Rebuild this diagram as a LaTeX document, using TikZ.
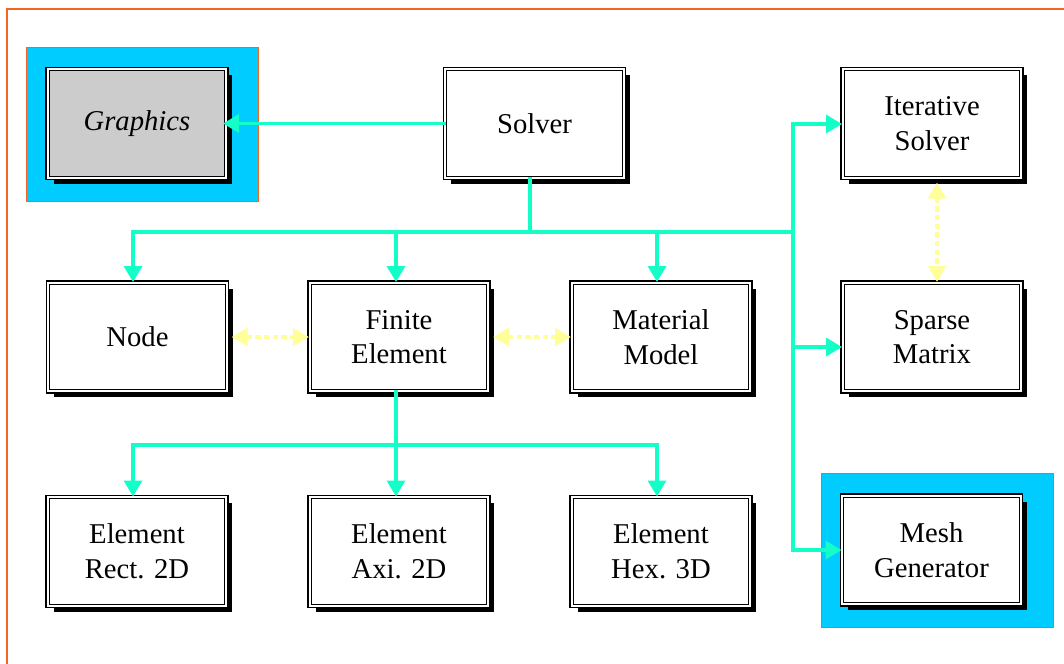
\documentclass[tikz,border=0pt]{standalone}
\usepackage{fontspec}
\setmainfont{Liberation Serif}
\usetikzlibrary{arrows.meta,shadows}
\definecolor{tealc}{RGB}{20,255,200}
\definecolor{skyc}{RGB}{0,204,255}
\definecolor{orng}{RGB}{242,101,34}
\definecolor{lyel}{RGB}{255,255,153}
\definecolor{gbox}{RGB}{204,204,204}
\begin{document}
\begin{tikzpicture}[x=0.75pt,y=-0.75pt,
  box/.style={draw=black, double=white, double distance=1.3pt, line width=1pt,
    fill=white, minimum width=134pt, minimum height=81.5pt, inner sep=0pt,
    align=center, font=\fontsize{21.5}{26}\selectfont,
    drop shadow={shadow xshift=4.5pt, shadow yshift=-4.5pt, opacity=1, fill=black}},
  frame/.style={fill=skyc, draw=orng, line width=0.8pt, minimum width=174pt, minimum height=116pt, inner sep=0pt},
  tl/.style={draw=tealc, line width=2.6pt, line cap=rect},
  tla/.style={tl, -{Triangle[length=12pt,width=13.5pt]}},
  ya/.style={draw=lyel, line width=3pt, dash pattern=on 4pt off 2.5pt,
    {Triangle[length=12pt,width=13pt]}-{Triangle[length=12pt,width=13pt]}}
]
\useasboundingbox (0,0) rectangle (1064,664);
\draw[orng, line width=1.4pt] (7,664) -- (7,9) -- (1064,9);

% cyan frames
\node[frame] (gframe) at (142.5,124.5) {};
\node[frame] (mframe) at (937.5,550.5) {};

% boxes
\node[box, fill=gbox, font=\fontsize{21.5}{26}\selectfont\itshape] (graphics) at (137,123.5) {Graphics};
\node[box] (solver) at (534.5,123.5) {Solver};
\node[box] (iter) at (932,123.5) {Iterative\\Solver};
\node[box] (node) at (137.5,337) {Node};
\node[box] (fe) at (399,337) {Finite\\Element};
\node[box] (mat) at (661,337) {Material\\Model};
\node[box] (sparse) at (932,337) {Sparse\\Matrix};
\node[box] (rect) at (137,551.5) {Element\\Rect. 2D};
\node[box] (axi) at (399,551.5) {Element\\Axi. 2D};
\node[box] (hex) at (661,551.5) {Element\\Hex. 3D};
\node[box] (mesh) at (931.5,550) {Mesh\\Generator};

% solver connectors
\draw[tla, shorten >=-3pt] (solver.west) -- (graphics.east);
\coordinate (sb) at (530,232);
\coordinate (bl) at (133,232);
\coordinate (bm) at (396,232);
\coordinate (bn) at (657,232);
\coordinate (br) at (793,232);
\draw[tl] (solver.south -| sb) -- (sb);
\draw[tl] (bl) -- (br);
\draw[tla] (bl) -- (bl |- node.north);
\draw[tla] (bm) -- (bm |- fe.north);
\draw[tla] (bn) -- (bn |- mat.north);
\coordinate (rt) at (793,124);
\coordinate (rs) at (793,347);
\coordinate (rb) at (793,550);
\draw[tl] (rt) -- (rb);
\draw[tla] (rt) -- (rt -| iter.west);
\draw[tla] (rs) -- (rs -| sparse.west);
\draw[tla] (rb) -- (rb -| mesh.west);

% finite element connectors
\coordinate (fb) at (396,445);
\coordinate (fl) at (133,445);
\coordinate (fr) at (657,445);
\draw[tl] (fe.south -| fb) -- (fb);
\draw[tl] (fl) -- (fr);
\draw[tla] (fl) -- (fl |- rect.north);
\draw[tla] (fb) -- (fb |- axi.north);
\draw[tla] (fr) -- (fr |- hex.north);

% yellow dotted
\draw[ya] ([xshift=3pt]node.east) -- (fe.west);
\draw[ya] ([xshift=3pt]fe.east) -- (mat.west);
\draw[ya] ([xshift=3.75pt,yshift=-3pt]iter.south) -- ([xshift=3.75pt]sparse.north);
\end{tikzpicture}
\end{document}
